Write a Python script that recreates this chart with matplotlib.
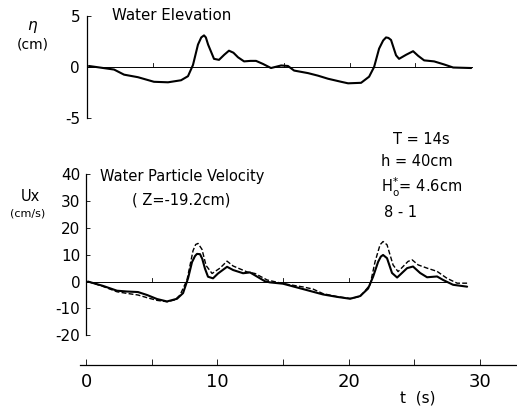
import matplotlib
matplotlib.use("Agg")
import matplotlib.pyplot as plt
import numpy as np

plt.rcParams['font.family'] = ['DejaVu Sans']

# ---- data ----
t_eta = [0.15, 2.06, 2.82, 3.88, 5.1, 6.17, 7.16, 7.69, 8.07, 8.45, 8.7, 8.91, 9.05, 9.22, 9.67,
         10.05, 10.45, 10.81, 11.15, 11.5, 11.96, 12.45, 12.87, 13.4, 14.01, 14.78, 15.3, 15.77,
         16.83, 17.59, 18.35, 19.35, 19.88, 20.87, 21.48, 21.86, 22.24, 22.55, 22.77, 22.95, 23.15,
         23.53, 23.76, 24.3, 24.83, 25.21, 25.67, 26.43, 27.19, 27.88, 29.25]
eta = [0.1, -0.25, -0.75, -1.0, -1.45, -1.5, -1.3, -0.9, 0.2, 2.2, 2.9, 3.1, 2.9, 2.2, 0.8,
       0.7, 1.2, 1.6, 1.4, 0.95, 0.55, 0.6, 0.6, 0.3, -0.1, 0.15, 0.1, -0.35,
       -0.6, -0.85, -1.15, -1.45, -1.6, -1.55, -0.95, 0.0, 1.8, 2.6, 2.9, 2.85, 2.65,
       1.15, 0.8, 1.2, 1.55, 1.1, 0.65, 0.55, 0.25, -0.05, -0.1]

t_u = [0.15, 1.29, 2.36, 3.12, 3.96, 4.65, 5.41, 6.17, 6.93, 7.39, 7.77, 8.07, 8.3, 8.45, 8.68,
       8.85, 9.06, 9.29, 9.67, 10.05, 10.74, 11.2, 11.96, 12.49, 12.87, 13.63, 14.0, 15.0,
       16.53, 17.29, 18.05, 19.12, 20.11, 20.87, 21.48, 21.86, 22.24, 22.45, 22.62, 22.92, 23.3,
       23.69, 24.45, 24.9, 25.44, 25.97, 26.73, 27.19, 27.95, 29.02]
u_meas = [0.0, -1.6, -3.4, -3.7, -3.9, -5.0, -6.5, -7.4, -6.4, -4.3, 1.2, 7.2, 9.5, 10.3, 10.2,
          8.5, 4.8, 1.8, 1.2, 3.0, 5.5, 4.3, 3.1, 3.4, 2.3, 0.1, -0.3, -0.8,
          -2.8, -3.8, -4.8, -5.7, -6.4, -5.4, -2.6, 1.8, 7.3, 9.3, 9.9, 8.7, 3.2,
          1.5, 5.0, 5.6, 3.2, 1.6, 1.9, 0.6, -1.2, -1.9]

t_ud = [0.15, 1.29, 2.36, 3.12, 3.96, 4.65, 5.41, 6.17, 6.78, 7.16, 7.69, 8.15, 8.35, 8.53, 8.83,
        9.14, 9.6, 10.2, 10.74, 11.2, 12.26, 12.87, 13.79, 14.78, 15.54, 16.53, 17.29, 18.05,
        19.12, 20.11, 20.87, 21.63, 22.01, 22.39, 22.62, 22.92, 23.38, 23.76, 24.52, 24.83, 25.29,
        25.97, 26.73, 27.49, 28.26, 29.02]
u_calc = [0.0, -1.8, -3.8, -4.4, -5.0, -6.0, -7.0, -7.5, -6.8, -5.0, 0.6, 11.5, 13.8, 14.2, 12.0,
          6.0, 3.0, 5.0, 7.6, 5.8, 3.6, 3.0, 0.6, -0.5, -1.2, -2.0, -2.8, -4.5,
          -5.6, -6.3, -5.6, -1.2, 7.4, 13.7, 14.9, 13.7, 6.2, 3.7, 7.5, 8.1, 6.2,
          5.0, 3.8, 1.2, -0.6, -0.6]

eta_ticks = [5, 0, -5]
u_ticks = [40, 30, 20, 10, 0, -10, -20]
t_ticks = [0, 10, 20, 30]

W, H = 517, 408
fig = plt.figure(figsize=(W / 100, H / 100), dpi=100)

def fx(px):
    return px / W

def fy(py):
    return 1 - py / H

# top axes: t 0..30 -> px 87..481 ; eta -5..5 -> py 118..16
ax1 = fig.add_axes([fx(87), fy(118), fx(481) - fx(87), fy(16) - fy(118)])
ax1.set_xlim(0, 30)
ax1.set_ylim(-5, 5)
ax1.plot(t_eta, eta, color='black', lw=1.5, solid_capstyle='round')
ax1.plot([0, 29.3], [0, 0], color='black', lw=0.7)
for tt in [5, 15, 20, 25]:
    ax1.plot([tt, tt], [0, 0.35], color='black', lw=0.6)
for s in ['top', 'right', 'bottom']:
    ax1.spines[s].set_visible(False)
ax1.spines['left'].set_linewidth(0.9)
ax1.spines['left'].set_linestyle((0, (6, 1)))
ax1.set_xticks([])
ax1.set_yticks(eta_ticks)
ax1.set_yticklabels(['5', '0', '-5'], fontsize=11)
ax1.tick_params(axis='y', direction='in', length=3, width=0.6, pad=5)
ax1.patch.set_alpha(0)

# bottom axes: u -20..40 -> py 335.3..174.1
ax2 = fig.add_axes([fx(86), fy(335.3), fx(480) - fx(86), fy(174.1) - fy(335.3)])
ax2.set_xlim(0, 30)
ax2.set_ylim(-20, 40)
ax2.plot(t_u, u_meas, color='black', lw=1.5, solid_capstyle='round')
ax2.plot(t_ud, u_calc, color='black', lw=1.0, ls=(0, (3.5, 1.6)))
ax2.plot([0, 27.5], [0, 0], color='black', lw=0.7)
for tt in [5, 15, 20]:
    ax2.plot([tt, tt], [0, 1.2], color='black', lw=0.6)
for s in ['top', 'right', 'bottom']:
    ax2.spines[s].set_visible(False)
ax2.spines['left'].set_linewidth(0.9)
ax2.set_xticks([])
ax2.set_yticks(u_ticks)
ax2.set_yticklabels([str(v) for v in u_ticks], fontsize=11)
ax2.tick_params(axis='y', direction='in', length=3, width=0.6, pad=4)
ax2.patch.set_alpha(0)

# time axis (separate line below)
t0px, spx = 86, 13.13
ax3 = fig.add_axes([fx(80), fy(365), fx(517) - fx(80), 0.001])
ax3.set_xlim((80 - t0px) / spx, (517 - t0px) / spx)
ax3.set_ylim(0, 1)
for s in ['top', 'right', 'left']:
    ax3.spines[s].set_visible(False)
ax3.spines['bottom'].set_linewidth(0.9)
ax3.set_yticks([])
ax3.set_xticks(t_ticks)
ax3.set_xticklabels([str(v) for v in t_ticks], fontsize=13)
ax3.set_xticks([5, 15, 25], minor=True)
ax3.tick_params(axis='x', which='both', direction='in', length=4, width=0.6, pad=6)
ax3.patch.set_alpha(0)

# texts
fig.text(fx(33), fy(27), r'$\eta$', fontsize=11, ha='center', va='center')
fig.text(fx(33), fy(44), '(cm)', fontsize=10, ha='center', va='center')
fig.text(fx(112), fy(16), 'Water Elevation', fontsize=10.8, ha='left', va='center')

fig.text(fx(30), fy(196), 'Ux', fontsize=10.5, ha='center', va='center')
fig.text(fx(28), fy(213), '(cm/s)', fontsize=8, ha='center', va='center')
fig.text(fx(100), fy(176), 'Water Particle Velocity', fontsize=10.5, ha='left', va='center')
fig.text(fx(181), fy(200), '( Z=-19.2cm)', fontsize=10.5, ha='center', va='center')

fig.text(fx(393), fy(140), 'T = 14s', fontsize=10.5, ha='left', va='center')
fig.text(fx(381), fy(162), 'h = 40cm', fontsize=10.5, ha='left', va='center')
fig.text(fx(381), fy(187), r'H$_{\rm o}^{*}$= 4.6cm', fontsize=10.5, ha='left', va='center')
fig.text(fx(384), fy(212), '8 - 1', fontsize=10.5, ha='left', va='center')

fig.text(fx(418), fy(398), 't  (s)', fontsize=11, ha='center', va='center')

fig.savefig('out.png', dpi=100)
